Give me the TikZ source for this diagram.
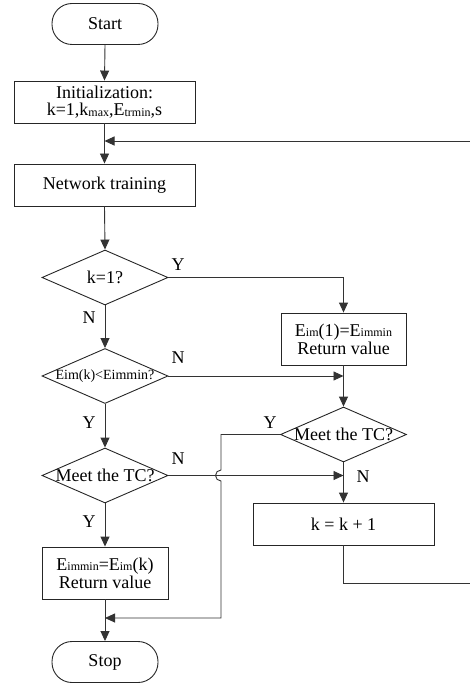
\documentclass[tikz,border=0pt]{standalone}
\usepackage{fontspec}
\setmainfont{Liberation Serif}
\usetikzlibrary{arrows.meta,shapes.geometric}
\newcommand{\lowtxt}[1]{\raisebox{-0.8pt}{\fontsize{12}{12}\selectfont #1}}
\begin{document}
\begin{tikzpicture}[x=1pt,y=-1pt,
  every node/.style={font=\fontsize{18}{19}\selectfont},
  line/.style={draw=black!80,line width=0.9pt},
  arr/.style={line,-{Triangle[length=10pt,width=9pt]}},
  boxnode/.style={draw=black!85,line width=0.9pt,inner sep=0pt,align=center},
  termnode/.style={boxnode,rounded corners=20pt,minimum width=106pt,minimum height=41pt},
  dianode/.style={draw=black!85,line width=0.9pt,diamond,inner sep=0pt,minimum width=126pt,minimum height=55pt},
  lbl/.style={inner sep=0pt}]
\useasboundingbox (0,0) rectangle (469,687);
\node[termnode] (start) at (105,24) {Start};
\node[boxnode,minimum width=181pt,minimum height=42pt] (init) at (104.5,102) {Initialization:\\[-2pt]k=1,k\lowtxt{max},E\lowtxt{trmin},s};
\node[boxnode,minimum width=181pt,minimum height=42pt] (nt) at (104.5,185) {Network training};
\node[dianode] (d1) at (105,277.5) {};
\node[lbl] (d1t) at (d1) {k=1?};
\node[dianode] (d2) at (105,376) {};
\node[lbl,font=\fontsize{14}{14}\selectfont] (d2t) at (d2) {Eim(k)<Eimmin?};
\node[dianode] (d4) at (105,475.5) {};
\node[lbl] (d4t) at (d4) {Meet the TC?};
\node[boxnode,minimum width=126pt,minimum height=52pt] (b3) at (105,573) {E\lowtxt{immin}=E\lowtxt{im}(k)\\[-1pt]Return value};
\node[termnode] (stop) at (105,662) {Stop};
\node[boxnode,minimum width=125pt,minimum height=52pt] (b1) at (343.5,339) {E\lowtxt{im}(1)=E\lowtxt{immin}\\[-1pt]Return value};
\node[dianode] (d3) at (343.5,434.5) {};
\node[lbl] (d3t) at (d3) {Meet the TC?};
\node[boxnode,minimum width=181pt,minimum height=42pt] (b2) at (343.5,524) {k = k + 1};
\coordinate (j1) at (104.5,141);
\coordinate (j2) at (105,618);
\coordinate (rr) at (471,583);
% labels
\node[lbl] (yl1) at (178,265) {Y};
\node[lbl] (nl1) at (89,318) {N};
\node[lbl] (nl2) at (178,358) {N};
\node[lbl] (yl2) at (89,423) {Y};
\node[lbl] (yl3) at (270,423) {Y};
\node[lbl] (nl3) at (178,459) {N};
\node[lbl] (nl4) at (363,477) {N};
\node[lbl] (yl4) at (89,522) {Y};
% connectors
\draw[arr] (start.south) -- (init.north);
\draw[arr] (init.south) -- (nt.north);
\draw[arr] (nt.south) -- (d1.north);
\draw[arr] (d1.east) -| (b1.north);
\draw[arr] (d1.south) -- (d2.north);
\draw[arr] (d2.east) -- (b1.south |- d2.east);
\draw[arr] (b1.south) -- (d3.north);
\draw[arr] (d2.south) -- (d4.north);
\draw[arr] (d4.east) -- (d3.south |- d4.east);
\draw[arr] (d3.south) -- (b2.north);
\draw[arr] (d4.south) -- (b3.north);
\draw[arr] (b3.south) -- (stop.north);
\draw[arr] (d3.west) -- (221,434.5) -- (221,470) arc[start angle=90,end angle=270,radius=5.5pt] -- (221,618) -- (j2);
\draw[arr] (b2.south) |- (rr) -- (471,141) -- (j1);
\end{tikzpicture}
\end{document}
